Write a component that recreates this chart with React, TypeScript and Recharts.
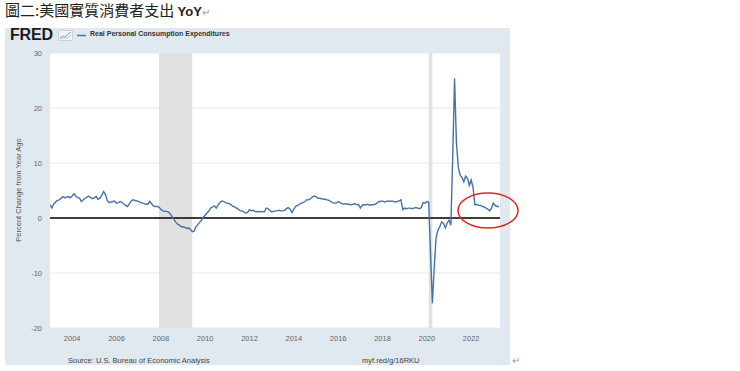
import React from 'react';
import {
  LineChart,
  Line,
  XAxis,
  YAxis,
  CartesianGrid,
  ReferenceArea,
  ReferenceLine,
} from 'recharts';

const y2003 = [2.4, 1.8, 2.5, 2.9, 3.2, 3.3, 3.6, 3.9, 3.7, 3.8, 3.9, 3.7];
const y2004 = [4.0, 4.4, 4.0, 3.7, 3.6, 3.0, 3.3, 3.6, 3.8, 4.0, 3.7, 3.5];
const y2005 = [3.7, 3.9, 3.4, 3.6, 4.1, 4.8, 4.3, 3.2, 2.8, 2.9, 3.0, 3.1];
const y2006 = [2.7, 2.8, 3.0, 2.8, 2.5, 2.3, 2.1, 2.6, 3.1, 3.3, 3.2, 3.1];
const y2007 = [3.0, 2.8, 2.7, 2.6, 2.5, 2.5, 3.0, 2.6, 2.2, 2.1, 2.1, 2.0];
const y2008 = [1.6, 1.3, 1.2, 1.2, 1.1, 0.8, 0.3, -0.2, -0.7, -1.1, -1.3, -1.6];
const y2009 = [-1.6, -1.7, -1.9, -1.8, -2.1, -2.5, -2.4, -1.6, -1.2, -0.8, -0.4, 0.1];
const y2010 = [0.5, 0.9, 1.3, 1.8, 2.0, 2.2, 1.8, 2.4, 2.8, 3.1, 3.0, 2.8];
const y2011 = [2.7, 2.6, 2.4, 2.1, 2.0, 1.8, 1.6, 1.3, 1.3, 1.1, 0.9, 1.0];
const y2012 = [1.5, 1.3, 1.4, 1.2, 1.1, 1.2, 1.1, 1.2, 1.1, 1.8, 1.7, 1.4];
const y2013 = [1.1, 1.2, 1.3, 1.3, 1.4, 1.3, 1.3, 1.4, 1.7, 1.9, 1.6, 1.0];
const y2014 = [1.6, 2.1, 2.3, 2.5, 2.7, 2.8, 3.0, 3.3, 3.3, 3.5, 3.8, 4.0];
const y2015 = [3.9, 3.6, 3.6, 3.5, 3.4, 3.4, 3.3, 3.2, 3.0, 2.8, 2.7, 2.7];
const y2016 = [3.0, 2.8, 2.6, 2.5, 2.6, 2.5, 2.5, 2.4, 2.5, 2.6, 2.4, 2.5];
const y2017 = [1.8, 2.3, 2.4, 2.4, 2.5, 2.3, 2.4, 2.4, 2.5, 2.7, 3.0, 3.0];
const y2018 = [3.1, 2.9, 3.0, 3.1, 3.0, 3.1, 3.0, 2.9, 3.0, 3.1, 3.3, 1.5];
const y2019 = [1.8, 1.7, 1.8, 1.8, 1.7, 1.8, 1.9, 1.8, 1.7, 1.9, 2.8, 2.7];
const y2020 = [3.0, 2.9, -6.5, -15.5, -9.0, -3.6, -2.2, -1.6, -0.7, -1.0, -1.8, -0.9];
const y2021 = [-0.4, -1.3, 11.0, 25.4, 13.8, 9.3, 7.8, 7.4, 6.6, 7.6, 7.2, 5.9];
const y2022 = [6.9, 5.6, 2.4, 2.5, 2.3, 2.3, 2.1, 2.0, 1.8, 1.6, 1.3, 1.8];
const y2023 = [2.7, 2.3, 2.1, 2.1];

const yearly = [
  y2003, y2004, y2005, y2006, y2007, y2008, y2009, y2010, y2011, y2012, y2013,
  y2014, y2015, y2016, y2017, y2018, y2019, y2020, y2021, y2022, y2023,
];
const firstYear = 2003;

const xTicks = [2004, 2006, 2008, 2010, 2012, 2014, 2016, 2018, 2020, 2022];
const yTicks = [-20, -10, 0, 10, 20, 30];

// recessions (NBER), as fractional years
const recessions = [
  [2007 + 11 / 12, 2009 + 5 / 12],
  [2020 + 1 / 12, 2020 + 3 / 12],
];

const data = yearly.flatMap((vals, i) =>
  vals.map((v, m) => ({ t: firstYear + i + m / 12, v }))
);

const sans = '"Liberation Sans", Arial, sans-serif';
const tickStyle = { fontSize: 7.5, fill: '#666', fontFamily: sans };

export default function App() {
  return (
    <div
      style={{
        position: 'absolute',
        left: 0,
        top: 0,
        width: 740,
        height: 371,
        background: '#fff',
        overflow: 'hidden',
      }}
    >
      <div
        style={{
          position: 'absolute',
          left: 5,
          top: 1,
          fontSize: 15,
          lineHeight: '18px',
          color: '#222',
          fontFamily: '"Noto Sans CJK TC", sans-serif',
          whiteSpace: 'nowrap',
        }}
      >
        圖二:美國實質消費者支出{' '}
        <span style={{ fontFamily: sans, fontWeight: 700, fontSize: 13 }}>YoY</span>
        <span style={{ color: '#999', fontSize: 10 }}>↵</span>
      </div>

      {/* FRED panel */}
      <div
        style={{
          position: 'absolute',
          left: 5,
          top: 28,
          width: 505,
          height: 337,
          background: '#e1e9f0',
        }}
      />
      <div
        style={{
          position: 'absolute',
          left: 10,
          top: 26,
          fontFamily: sans,
          fontWeight: 900,
          fontSize: 16,
          letterSpacing: -0.2,
          color: '#1a1a1a',
        }}
      >
        FRED
      </div>
      <svg
        style={{ position: 'absolute', left: 58, top: 30 }}
        width={16}
        height={11}
      >
        <rect x={0.5} y={0.5} width={14} height={10} fill="#f2f5f8" stroke="#c9d3dc" />
        <polyline
          points="2,8 5,6 7,7 10,4 13,2"
          fill="none"
          stroke="#7fa6c9"
          strokeWidth={1}
        />
        <polyline points="2,9 6,8 9,8 13,5" fill="none" stroke="#a9c78f" strokeWidth={0.8} />
      </svg>
      <svg style={{ position: 'absolute', left: 77, top: 34 }} width={10} height={3}>
        <line x1={0} y1={1.5} x2={9} y2={1.5} stroke="#4572a7" strokeWidth={1.5} />
      </svg>
      <div
        style={{
          position: 'absolute',
          left: 90,
          top: 30,
          fontFamily: sans,
          fontWeight: 600,
          fontSize: 7,
          color: '#333',
          whiteSpace: 'nowrap',
        }}
      >
        Real Personal Consumption Expenditures
      </div>

      <div
        style={{
          position: 'absolute',
          left: 18,
          top: 190,
          transform: 'translate(-50%, -50%) rotate(-90deg)',
          fontFamily: sans,
          fontSize: 7.5,
          color: '#555',
          whiteSpace: 'nowrap',
        }}
      >
        Percent Change from Year Ago
      </div>

      <div style={{ position: 'absolute', left: 0, top: 0 }}>
        <LineChart
          width={520}
          height={366}
          data={data}
          margin={{ top: 53, right: 20, bottom: 18, left: 0 }}
        >
          <CartesianGrid
            vertical={false}
            stroke="#e8e8e8"
            fill="#ffffff"
            fillOpacity={1}
          />
          {recessions.map(([a, b]) => (
            <ReferenceArea
              key={a}
              x1={a}
              x2={b}
              fill="#e1e1e1"
              fillOpacity={1}
              stroke="none"
              ifOverflow="hidden"
            />
          ))}
          <XAxis
            type="number"
            dataKey="t"
            domain={[2003, 2023.3]}
            ticks={xTicks}
            allowDataOverflow
            axisLine={false}
            tickLine={false}
            tick={tickStyle}
            height={20}
            interval={0}
          />
          <YAxis
            type="number"
            domain={[-20, 30]}
            ticks={yTicks}
            axisLine={false}
            tickLine={false}
            tick={tickStyle}
            width={50}
            interval={0}
          />
          <ReferenceLine y={0} stroke="#000" strokeWidth={1.5} />
          <Line
            type="linear"
            dataKey="v"
            stroke="#4572a7"
            strokeWidth={1.4}
            dot={false}
            isAnimationActive={false}
          />
        </LineChart>
      </div>

      <svg
        style={{ position: 'absolute', left: 0, top: 0, pointerEvents: 'none' }}
        width={740}
        height={371}
      >
        <ellipse
          cx={488}
          cy={210.5}
          rx={30}
          ry={17.5}
          fill="none"
          stroke="#e3241d"
          strokeWidth={1.5}
        />
      </svg>

      <div
        style={{
          position: 'absolute',
          left: 68,
          top: 356,
          fontFamily: sans,
          fontSize: 7.5,
          color: '#444',
          whiteSpace: 'nowrap',
        }}
      >
        Source: U.S. Bureau of Economic Analysis
      </div>
      <div
        style={{
          position: 'absolute',
          left: 362,
          top: 356,
          fontFamily: sans,
          fontSize: 7.5,
          color: '#444',
          whiteSpace: 'nowrap',
        }}
      >
        myf.red/g/16RKU
      </div>
      <div
        style={{
          position: 'absolute',
          left: 512,
          top: 355,
          fontSize: 10,
          color: '#999',
        }}
      >
        ↵
      </div>
    </div>
  );
}
